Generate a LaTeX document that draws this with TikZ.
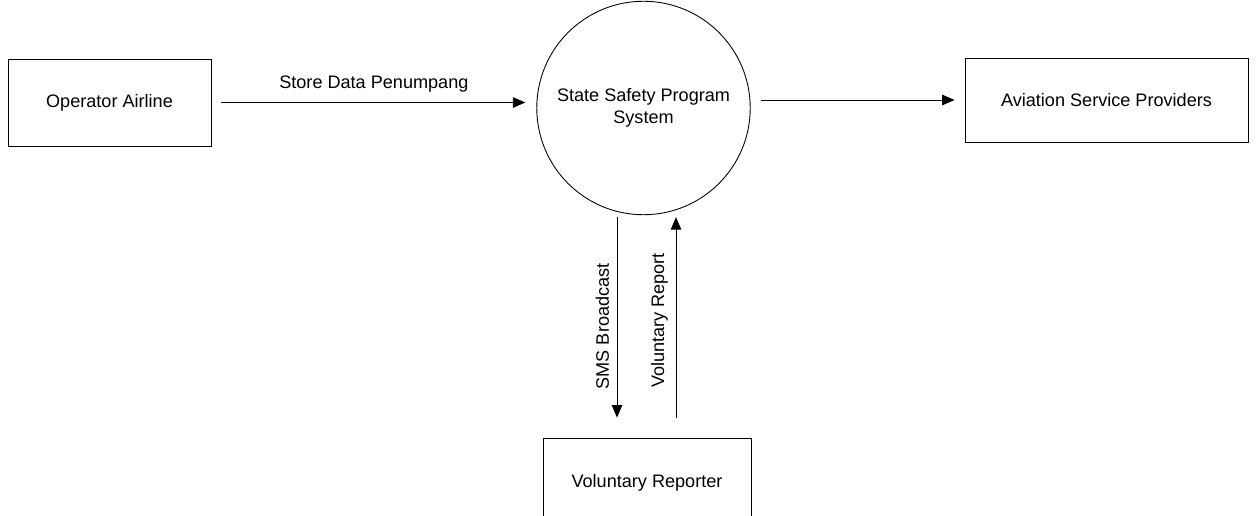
\documentclass[tikz,border=0pt]{standalone}
\usepackage{fontspec}
\setmainfont{Liberation Sans}
\usetikzlibrary{arrows.meta,positioning}

\begin{document}
\begin{tikzpicture}[x=0.02cm,y=-0.02cm,
    entity/.style={draw,line width=0.5pt,rectangle,align=center},
    process/.style={draw,line width=0.5pt,circle,align=center,inner sep=0pt,minimum size=4.27cm},
    flow/.style={line width=0.5pt,-{Triangle[length=0.25cm,width=0.21cm]}},
    every node/.style={font=\fontsize{10.3}{12.5}\selectfont}]
  \useasboundingbox (0,0) rectangle (1256,516);

  \node[entity,minimum width=4.06cm,minimum height=1.74cm] (opr) at (109.5,102.5) {Operator Airline};
  \node[process] (ssp) at (643.5,108) {State Safety Program\\System};
  \node[entity,minimum width=5.66cm,minimum height=1.68cm] (asp) at (1106.5,100) {Aviation Service Providers};
  \node[entity,minimum width=4.16cm,minimum height=1.8cm] (vrp) at (647,483) {Voluntary Reporter};

  % data flows
  \draw[flow,shorten <=0.2cm,shorten >=0.22cm] (opr.east) -- (opr.east -| ssp.west)
    node[midway,above=2pt] {Store Data Penumpang};
  \draw[flow,shorten <=0.2cm,shorten >=0.2cm] (ssp.east |- asp.west) -- (asp.west);
  \draw[flow,shorten <=0.04cm,shorten >=0.4cm] ([xshift=-0.53cm]ssp.south) -- ([xshift=-0.53cm]ssp.south |- vrp.north)
    node[midway,rotate=90,anchor=south,yshift=1pt] {SMS Broadcast};
  \draw[flow,shorten <=0.4cm,shorten >=0.04cm] ([xshift=0.65cm]ssp.south |- vrp.north) -- ([xshift=0.65cm]ssp.south)
    node[midway,rotate=90,anchor=south,yshift=1pt,xshift=0.12cm] {Voluntary Report};
\end{tikzpicture}
\end{document}
